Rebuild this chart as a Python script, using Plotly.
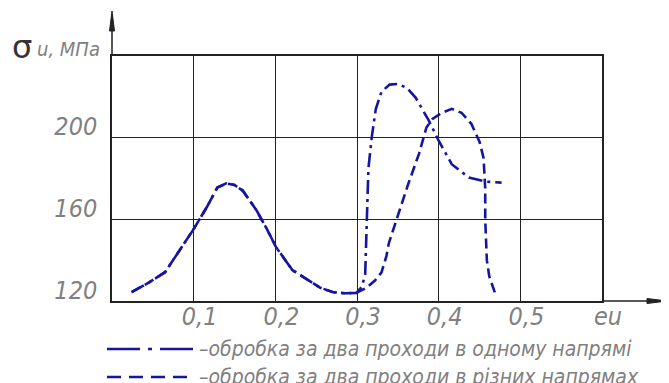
import plotly.graph_objects as go

# shared first part of both curves (strain e_i, stress MPa)
common_x = [0.024, 0.045, 0.065, 0.085, 0.099, 0.116, 0.129, 0.140, 0.150, 0.160,
            0.177, 0.190, 0.201, 0.221, 0.241, 0.255, 0.270, 0.285, 0.299]
common_y = [124.4, 129.0, 134.1, 146.0, 154.6, 165.9, 175.6, 177.6, 176.8, 174.1,
            164.4, 155.0, 146.3, 135.1, 130.2, 126.5, 124.4, 123.8, 123.9]

# two passes, same direction (dash-dot)
same_x = [0.306, 0.310, 0.312, 0.314, 0.318, 0.323, 0.330, 0.340, 0.350, 0.361,
          0.372, 0.388, 0.400, 0.416, 0.437, 0.457, 0.477]
same_y = [127.0, 133.0, 160.0, 185.0, 200.0, 214.0, 222.5, 226.0, 226.3, 224.4,
          219.5, 208.3, 198.5, 187.0, 180.5, 178.5, 178.0]

# two passes, different directions (dashed)
diff_x = [0.311, 0.322, 0.330, 0.336, 0.339, 0.351, 0.363, 0.376, 0.385, 0.392,
          0.404, 0.416, 0.428, 0.440, 0.450, 0.455, 0.457, 0.457, 0.459, 0.462, 0.469]
diff_y = [126.3, 130.0, 134.0, 142.0, 148.3, 163.0, 177.6, 192.2, 205.0, 209.0,
          212.2, 214.1, 212.2, 206.8, 198.0, 190.0, 175.0, 160.0, 140.0, 132.0, 123.9]

x_ticks = [0.1, 0.2, 0.3, 0.4, 0.5, 0.6]
x_ticktext = ["0,1", "0,2", "0,3", "0,4", "0,5", "eu"]
y_ticks = [120, 160, 200]
y_ticktext = ["120", "160", "200"]

legend_labels = ["–обробка за два проходи в одному напрямі",
                 "–обробка за два проходи в різних напрямах"]

BLUE = "#1515a0"
TXT = "#808080"
FONT = "DejaVu Sans Condensed, DejaVu Sans, sans-serif"

fig = go.Figure()
fig.add_trace(go.Scatter(x=common_x + same_x, y=common_y + same_y, mode="lines",
                         line=dict(color=BLUE, width=2.6, dash="14px,5px,3px,5px"),
                         hoverinfo="skip"))
fig.add_trace(go.Scatter(x=common_x + diff_x, y=common_y + diff_y, mode="lines",
                         line=dict(color=BLUE, width=2.6, dash="10px,5px"),
                         hoverinfo="skip"))

# page has an 8px body margin: plot area should sit at page x 112..602, y 56..301
W, H = 669, 383
L, R, T, B = 104, 75, 48, 90
PL, PB = 112, 301
pw, ph = W - L - R, H - T - B


def px(xp):
    return (xp - PL) / pw


def py(yp):
    return (PB - yp) / ph


shapes = []
# axis extensions with arrows
shapes.append(dict(type="line", xref="paper", yref="paper", x0=0, x1=0, y0=1, y1=py(14),
                   line=dict(color="#222", width=1.5)))
shapes.append(dict(type="path", xref="paper", yref="paper",
                   path=f"M {px(112)} {py(11)} L {px(109.5)} {py(31)} L {px(114.5)} {py(31)} Z",
                   fillcolor="#222", line=dict(color="#222", width=1)))
shapes.append(dict(type="line", xref="paper", yref="paper", x0=1, x1=px(662), y0=0, y1=0,
                   line=dict(color="#222", width=1.5)))
shapes.append(dict(type="path", xref="paper", yref="paper",
                   path=f"M {px(667)} {py(301)} L {px(647)} {py(298.5)} L {px(647)} {py(303.5)} Z",
                   fillcolor="#222", line=dict(color="#222", width=1)))
# legend samples
shapes.append(dict(type="line", xref="paper", yref="paper", x0=px(107), x1=px(195),
                   y0=py(349), y1=py(349),
                   line=dict(color=BLUE, width=2.6, dash="33px,8px,4px,8px")))
shapes.append(dict(type="line", xref="paper", yref="paper", x0=px(107), x1=px(195),
                   y0=py(377), y1=py(377),
                   line=dict(color=BLUE, width=2.6, dash="14px,8px")))

annotations = [
    dict(text="σ", xref="paper", yref="paper", x=px(10), y=py(47), xanchor="left",
         yanchor="middle", showarrow=False,
         font=dict(family="DejaVu Sans", size=32, color="#333")),
    dict(text="<i>u, МПа</i>", xref="paper", yref="paper", x=px(35), y=py(49),
         xanchor="left", yanchor="middle", showarrow=False,
         font=dict(family=FONT, size=20, color=TXT)),
]
for i, lab in enumerate(legend_labels):
    annotations.append(dict(text="<i>" + lab + "</i>", xref="paper", yref="paper",
                            x=px(197), y=py(349 + 28 * i), xanchor="left", yanchor="middle",
                            showarrow=False, font=dict(family=FONT, size=21, color=TXT)))

fig.update_layout(
    width=W, height=H, autosize=False,
    margin=dict(l=L, r=R, t=T, b=B, pad=0),
    paper_bgcolor="white", plot_bgcolor="white",
    showlegend=False,
    shapes=shapes, annotations=annotations,
    xaxis=dict(range=[0, 0.6], tickvals=x_ticks, ticktext=x_ticktext,
               showgrid=True, gridcolor="#222", gridwidth=1.3,
               showline=True, mirror=True, linecolor="#222", linewidth=1.5,
               zeroline=False, ticks="", ticklabelshift=6, ticklabelstandoff=-8,
               tickfont=dict(family=FONT, size=25, color=TXT, style="italic")),
    yaxis=dict(range=[120, 240], tickvals=y_ticks, ticktext=y_ticktext,
               showgrid=True, gridcolor="#222", gridwidth=1.3,
               showline=True, mirror=True, linecolor="#222", linewidth=1.5,
               zeroline=False, ticks="", ticklabelshift=-11, ticklabelstandoff=8,
               tickfont=dict(family=FONT, size=25, color=TXT, style="italic")),
)

fig.write_html("out.html")
